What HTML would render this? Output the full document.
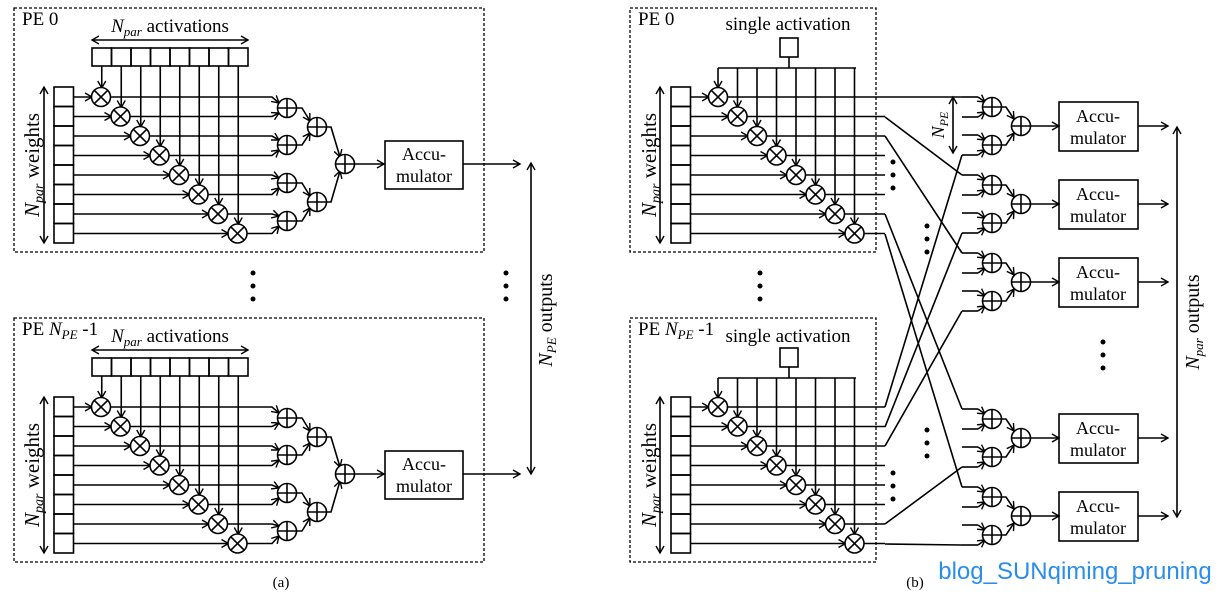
<!DOCTYPE html>
<html><head><meta charset="utf-8">
<style>
html,body{margin:0;padding:0;background:#fff;}
svg{display:block;}
text{font-family:"Liberation Serif",serif;fill:#000;}
</style></head>
<body>
<svg id="s" width="1226" height="594" viewBox="0 0 1226 594" xmlns="http://www.w3.org/2000/svg">
<defs>
<marker id="ar" markerWidth="10" markerHeight="10" refX="8" refY="5" orient="auto" markerUnits="userSpaceOnUse">
<path d="M1,1 L8,5 L1,9" fill="none" stroke="#000" stroke-width="1.4"/>
</marker>
<marker id="as" markerWidth="10" markerHeight="10" refX="2" refY="5" orient="auto" markerUnits="userSpaceOnUse">
<path d="M9,1 L2,5 L9,9" fill="none" stroke="#000" stroke-width="1.4"/>
</marker>
</defs>
<g id="g" fill="none" stroke="#000" stroke-width="1.6"></g>

<text x="22" y="25" font-size="19">PE 0</text>
<text x="170" y="32" font-size="19" text-anchor="middle"><tspan font-style="italic">N</tspan><tspan font-style="italic" font-size="13" dy="4">par</tspan><tspan dy="-4"> activations</tspan></text>
<text transform="translate(39,165) rotate(-90)" font-size="21" text-anchor="middle"><tspan font-style="italic">N</tspan><tspan font-style="italic" font-size="14" dy="4">par</tspan><tspan dy="-4"> weights</tspan></text>
<text x="424" y="160" font-size="18" text-anchor="middle">Accu-</text>
<text x="424" y="182" font-size="18" text-anchor="middle">mulator</text>

<text x="22" y="335" font-size="19">PE <tspan font-style="italic">N</tspan><tspan font-style="italic" font-size="13" dy="4">PE</tspan><tspan dy="-4"> -1</tspan></text>
<text x="170" y="342" font-size="19" text-anchor="middle"><tspan font-style="italic">N</tspan><tspan font-style="italic" font-size="13" dy="4">par</tspan><tspan dy="-4"> activations</tspan></text>
<text transform="translate(39,475) rotate(-90)" font-size="21" text-anchor="middle"><tspan font-style="italic">N</tspan><tspan font-style="italic" font-size="14" dy="4">par</tspan><tspan dy="-4"> weights</tspan></text>
<text x="424" y="470" font-size="18" text-anchor="middle">Accu-</text>
<text x="424" y="492" font-size="18" text-anchor="middle">mulator</text>

<text transform="translate(552,320) rotate(-90)" font-size="20" text-anchor="middle"><tspan font-style="italic">N</tspan><tspan font-style="italic" font-size="13" dy="4">PE</tspan><tspan dy="-4"> outputs</tspan></text>
<text x="281" y="587" font-size="15" text-anchor="middle">(a)</text>

<text x="638" y="25" font-size="19">PE 0</text>
<text x="788" y="30" font-size="19" text-anchor="middle">single activation</text>
<text transform="translate(656,165) rotate(-90)" font-size="21" text-anchor="middle"><tspan font-style="italic">N</tspan><tspan font-style="italic" font-size="14" dy="4">par</tspan><tspan dy="-4"> weights</tspan></text>
<text x="638" y="335" font-size="19">PE <tspan font-style="italic">N</tspan><tspan font-style="italic" font-size="13" dy="4">PE</tspan><tspan dy="-4"> -1</tspan></text>
<text x="788" y="342" font-size="19" text-anchor="middle">single activation</text>
<text transform="translate(656,475) rotate(-90)" font-size="21" text-anchor="middle"><tspan font-style="italic">N</tspan><tspan font-style="italic" font-size="14" dy="4">par</tspan><tspan dy="-4"> weights</tspan></text>
<text transform="translate(944,125) rotate(-90)" font-size="18" text-anchor="middle"><tspan font-style="italic">N</tspan><tspan font-style="italic" font-size="12" dy="4">PE</tspan></text>
<text transform="translate(1199,322) rotate(-90)" font-size="20" text-anchor="middle"><tspan font-style="italic">N</tspan><tspan font-style="italic" font-size="13" dy="4">par</tspan><tspan dy="-4"> outputs</tspan></text>
<text x="1098" y="122" font-size="18" text-anchor="middle">Accu-</text><text x="1098" y="144" font-size="18" text-anchor="middle">mulator</text>
<text x="1098" y="200" font-size="18" text-anchor="middle">Accu-</text><text x="1098" y="222" font-size="18" text-anchor="middle">mulator</text>
<text x="1098" y="278" font-size="18" text-anchor="middle">Accu-</text><text x="1098" y="300" font-size="18" text-anchor="middle">mulator</text>
<text x="1098" y="434" font-size="18" text-anchor="middle">Accu-</text><text x="1098" y="456" font-size="18" text-anchor="middle">mulator</text>
<text x="1098" y="512" font-size="18" text-anchor="middle">Accu-</text><text x="1098" y="534" font-size="18" text-anchor="middle">mulator</text>
<text x="915" y="587" font-size="15" text-anchor="middle">(b)</text>
<text x="1075" y="579" font-size="24" text-anchor="middle" style="font-family:'Liberation Sans',sans-serif;fill:#2a8ee8">blog_SUNqiming_pruning</text>
</svg>
<script>
var G=document.getElementById('g'),NS='http://www.w3.org/2000/svg';
function el(t,a){var e=document.createElementNS(NS,t);for(var k in a)e.setAttribute(k,a[k]);G.appendChild(e);return e;}
function pl(pts,arr,start){var e=el('polyline',{points:pts.map(function(p){return p.join(',')}).join(' ')});if(arr)e.setAttribute('marker-end','url(#ar)');if(start)e.setAttribute('marker-start','url(#as)');return e;}
function rect(x,y,w,h,d){var e=el('rect',{x:x,y:y,width:w,height:h});if(d){e.setAttribute('stroke-dasharray','3,2');e.setAttribute('stroke-width','1.3');}return e;}
function mul(x,y){el('circle',{cx:x,cy:y,r:9.5,fill:'#fff'});var d=6.6;pl([[x-d,y-d],[x+d,y+d]]);pl([[x-d,y+d],[x+d,y-d]]);}
function add(x,y){el('circle',{cx:x,cy:y,r:9.5,fill:'#fff'});pl([[x-9.5,y],[x+9.5,y]]);pl([[x,y-9.5],[x,y+9.5]]);}
function dots(x,y){for(var i=0;i<3;i++)el('circle',{cx:x,cy:y+i*13,r:2.5,fill:'#000',stroke:'none'});}
var S=19.5;
[0,310].forEach(function(dy){
 rect(14,8+dy,470,244,true);
 for(var i=0;i<8;i++){rect(92+S*i,48+dy,S,18);rect(54,87+dy+S*i,S,S);}
 pl([[92,40+dy],[248,40+dy]],true,true);
 pl([[44,87+dy],[44,243+dy]],true,true);
 var L1=[108,145,183,221];
 for(var i=0;i<8;i++){
  var cx=101+S*i,cy=97+dy+S*i,ax=101.75+S*i;
  pl([[ax,66+dy],[ax,cy-9]],true);
  pl([[73,cy],[cx-9,cy]],true);
  var a=L1[i>>1]+dy, up=(i%2==0);
  pl([[cx+9,cy],[272,cy],[279,a+(up?-5:5)]],true);
  mul(cx,cy);
 }
 L1.forEach(function(y){add(287,y+dy);});
 pl([[296,108+dy],[302,108+dy],[310,121+dy]],true);
 pl([[296,145+dy],[302,145+dy],[310,133+dy]],true);
 pl([[296,183+dy],[302,183+dy],[310,196+dy]],true);
 pl([[296,221+dy],[302,221+dy],[310,208+dy]],true);
 add(317,127+dy);add(317,202+dy);
 pl([[326,127+dy],[331,127+dy],[340,157+dy]],true);
 pl([[326,202+dy],[331,202+dy],[340,171+dy]],true);
 add(345,164+dy);
 pl([[354,164+dy],[384,164+dy]],true);
 rect(385,141+dy,78,48);
 pl([[463,164+dy],[520,164+dy]],true);
});
pl([[531,163],[531,474]],true,true);
dots(253,273);dots(506,273);
[0,310].forEach(function(dy){
 rect(630,8+dy,246,244,true);
 for(var i=0;i<8;i++)rect(671,87+dy+S*i,S,S);
 pl([[660,87+dy],[660,243+dy]],true,true);
 rect(780,38+dy,18,19);
 pl([[789,57+dy],[789,68+dy]]);
 pl([[718,68+dy],[856,68+dy]]);
 for(var i=0;i<8;i++){
  var cx=718+S*i,cy=97+dy+S*i;
  pl([[cx,68+dy],[cx,cy-9]],true);
  pl([[690,cy],[cx-9,cy]],true);
  pl([[cx+9,cy],[885,cy]]);
  mul(cx,cy);
 }
});
dots(893,162);dots(893,473);dots(927,226);dots(927,430);dots(760,273);dots(1103,342);
var GC=[126,204,282,438,516];
function inp(y,a,top){pl([[978,y],[985,a+(top?-5:5)]],true);}
GC.forEach(function(g){
 var a1=g-19,a2=g+19;
 pl([[962,a1-10],[978,a1-10]]);inp(a1-10,a1,true);
 pl([[962,a1+10],[978,a1+10]]);inp(a1+10,a1,false);
 pl([[962,a2-10],[978,a2-10]]);inp(a2-10,a2,true);
 pl([[962,a2+10],[978,a2+10]]);inp(a2+10,a2,false);
 add(992,a1);add(992,a2);
 pl([[1001,a1],[1006,a1],[1014,g-7]],true);
 pl([[1001,a2],[1006,a2],[1014,g+7]],true);
 add(1021,g);
 pl([[1030,g],[1059,g]],true);
 rect(1059,g-24,79,49);
 pl([[1138,g],[1168,g]],true);
});
pl([[885,97],[962,97]]);
pl([[885,117],[962,175]]);
pl([[885,136],[962,253]]);
pl([[885,214],[962,409]]);
pl([[885,234],[962,487]]);
pl([[885,407],[962,155]]);
pl([[885,427],[962,233]]);
pl([[885,446],[962,311]]);
pl([[885,524],[962,467]]);
pl([[885,544],[962,545]]);
pl([[953,97],[953,153]],true,true);
pl([[1177,127],[1177,517]],true,true);
</script>
</body></html>
